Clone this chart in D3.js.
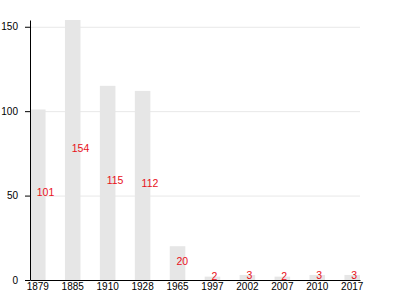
<!DOCTYPE html>
<html><head><meta charset="utf-8">
<script src="https://cdn.jsdelivr.net/npm/d3@7"></script>
<style>body{margin:0;background:#fff}svg{display:block;font-family:"Liberation Sans",Arial,sans-serif}</style>
</head><body>
<svg id="c" width="400" height="300"></svg>
<script>
const categories = ["1879","1885","1910","1928","1965","1997","2002","2007","2010","2017"];
const values = [101,154,115,112,20,2,3,2,3,3];
const yTicks = [0,50,100,150];

const svg = d3.select("#c");
const mLeft = 30, mRight = 360, mTop = 20, mBottom = 280;
const x = d3.scaleBand().domain(categories).range([mLeft, mRight]).paddingInner(0.555).paddingOuter(0);
const y = d3.scaleLinear().domain([0, d3.max(values)]).range([mBottom, mTop]);

svg.append("g").selectAll("line").data(yTicks.filter(t => t > 0)).join("line")
  .attr("x1", mLeft).attr("x2", mRight)
  .attr("y1", d => y(d) + 0.5).attr("y2", d => y(d) + 0.5)
  .attr("stroke", "#e8e8e8").attr("stroke-width", 1);

svg.append("g").selectAll("rect").data(values).join("rect")
  .attr("x", (d, i) => x(categories[i]))
  .attr("y", d => y(d))
  .attr("width", x.bandwidth())
  .attr("height", d => mBottom - y(d))
  .attr("fill", "#e6e6e6");

svg.append("g").selectAll("text").data(values).join("text")
  .attr("x", (d, i) => x(categories[i]) + x.bandwidth() / 2 - 1)
  .attr("y", d => y(d / 2) + 1.5)
  .attr("fill", "#e8101a")
  .attr("font-size", 10.5)
  .text(d => d);

const xa = svg.append("g").attr("transform", `translate(0,${mBottom})`)
  .call(d3.axisBottom(x).tickSize(0).tickPadding(3));
xa.select(".domain").attr("stroke", "#000");
xa.selectAll("text").attr("font-size", 10).attr("fill", "#000").attr("font-family", "Liberation Sans, Arial, sans-serif");

const ya = svg.append("g").attr("transform", `translate(${mLeft},0)`)
  .call(d3.axisLeft(y).tickValues(yTicks).tickSize(5).tickSizeOuter(0).tickPadding(7));
ya.select(".domain").attr("stroke", "#000");
ya.selectAll("text").attr("font-size", 10).attr("fill", "#000").attr("font-family", "Liberation Sans, Arial, sans-serif");
</script>
</body></html>
